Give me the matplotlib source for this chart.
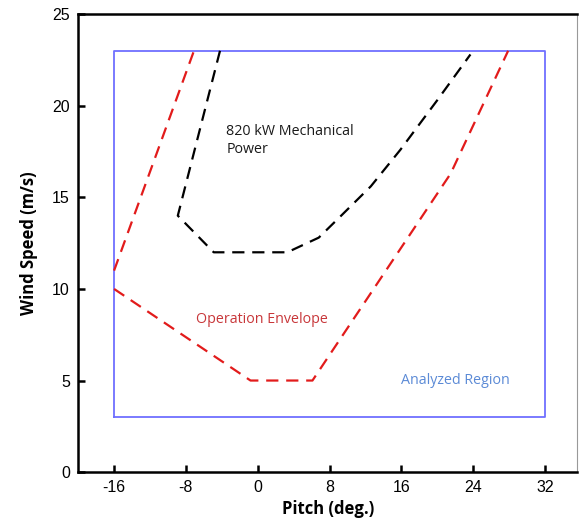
import numpy as np
import matplotlib.pyplot as plt

plt.rcParams['axes.unicode_minus'] = False

# operation envelope (red), two branches
env_left_x = [-16, -7.1]
env_left_y = [11.0, 23.0]
env_low_x = [-16, -0.8, 6.1, 21.5, 27.9]
env_low_y = [10.0, 5.0, 5.0, 16.3, 23.0]

# 820 kW mechanical power (black)
pow_x = [-4.2, -8.9, -4.9, 3.3, 6.8, 9.3, 12.6, 15.9, 20.0, 23.7]
pow_y = [23.0, 14.0, 12.0, 12.0, 12.8, 14.0, 15.6, 17.6, 20.3, 22.8]

# analyzed region box
reg_x = [-16, 32, 32, -16, -16]
reg_y = [3, 3, 23, 23, 3]

xticks = [-16, -8, 0, 8, 16, 24, 32]
yticks = [0, 5, 10, 15, 20, 25]

fig = plt.figure(figsize=(5.79, 5.24), dpi=100)
ax = fig.add_axes([0.135, 0.099, 0.862, 0.874])

ax.plot(reg_x, reg_y, color='#6f6fff', lw=1.3)
ax.plot(env_left_x, env_left_y, color='#e21b1b', lw=1.6, dashes=(5.5, 3.5))
ax.plot(env_low_x, env_low_y, color='#e21b1b', lw=1.6, dashes=(5.5, 3.5))
ax.plot(pow_x, pow_y, color='black', lw=1.6, dashes=(5.5, 3.5))

ax.text(-3.5, 18.1, '820 kW Mechanical\nPower', fontsize=10.3, color='#1a1a1a',
        family='Open Sans', ha='left', va='center', linespacing=1.25)
ax.text(0.5, 8.35, 'Operation Envelope', fontsize=10.3, color='#c8373a',
        family='Open Sans', ha='center', va='center')
ax.text(22, 5.0, 'Analyzed Region', fontsize=10.3, color='#5b8ad6',
        family='Open Sans', ha='center', va='center')

ax.set_xlim(-20, 35.6)
ax.set_ylim(0, 25)
ax.set_xticks(xticks)
ax.set_yticks(yticks)
ax.tick_params(direction='in', length=5, width=1.8, labelsize=11.5, pad=6)
for lab in ax.get_xticklabels() + ax.get_yticklabels():
    lab.set_family('Liberation Sans')

for s in ['left', 'bottom', 'top']:
    ax.spines[s].set_linewidth(1.8)
ax.spines['right'].set_linewidth(0.8)
ax.spines['right'].set_color('#999999')

ax.set_xlabel('Pitch (deg.)', fontsize=12, fontweight='bold', family='Open Sans', labelpad=3)
ax.set_ylabel('Wind Speed (m/s)', fontsize=12, fontweight='bold', family='Open Sans', labelpad=10)

fig.savefig('out.png', dpi=100)
